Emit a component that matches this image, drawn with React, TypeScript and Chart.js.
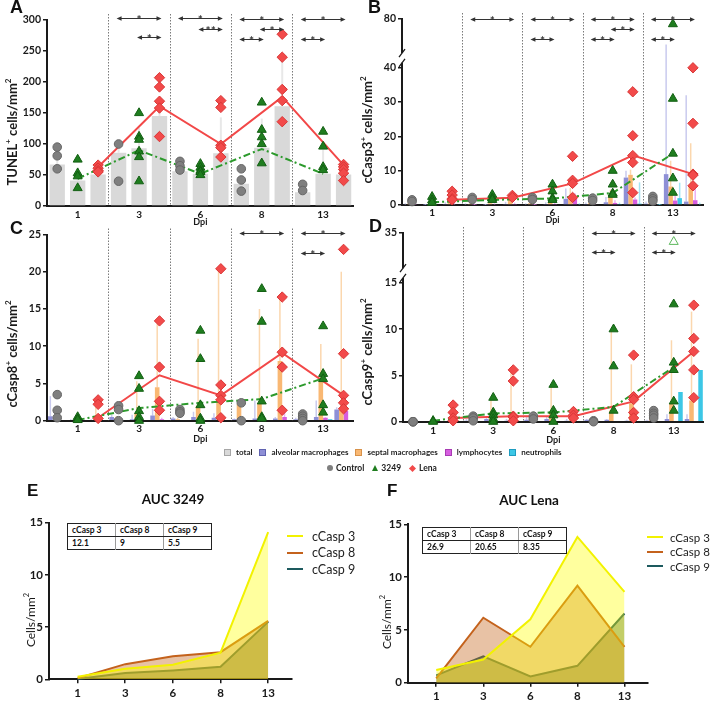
import React, { useEffect, useRef } from 'react';
import { Chart, registerables } from 'chart.js';

Chart.register(...registerables);

const FONT = 'Lato, "Open Sans", "DejaVu Sans", sans-serif';
const INK = '#1a1a1a';

// ---------- shared categories ----------
const days = ['1', '3', '6', '8', '13'];
const groups = ['Control', '3249', 'Lena'];
const categories = days.flatMap((d) => groups.map((g) => `${d}|${g}`));

const legendBarNames = ['total', 'alveolar macrophages', 'septal macrophages', 'lymphocytes', 'neutrophils'];
const legendBarColors = ['#d9d9d9', '#8e8fd6', '#f9b873', '#d65de0', '#3cc7e6'];
const legendBarBorders = ['#a6a6a6', '#6063b0', '#d8924a', '#a83bb3', '#1e9cc0'];
const cellTypes = ['alveolar macrophages', 'septal macrophages', 'lymphocytes', 'neutrophils'];
const cellColors = ['#8e8fd6', '#f9b873', '#d65de0', '#3cc7e6'];
const cellErrColors = ['#c9caee', '#fbd7ae', '#ecb0f2', '#a3e4f3'];

const groupColors = ['#7f7f7f', '#1f7d1f', '#f24a4a'];
const groupBorders = ['#666666', '#125f12', '#d93636'];
const groupStyles = ['circle', 'triangle', 'rectRot'];

// ---------- Panel A : TUNEL ----------
const aTotal = [67, 41, 51, 86, 93, 145, 56, 52, 85, 36, 94, 161, 22, 52, 51];
const aTotalSd = [11, 21, 4, 14, 34, 31, 9, 6, 58, 14, 47, 80, 8, 39, 9];
const aControl = [[95, 81, 60], [100, 40], [72, 65, 58], [60, 42, 24], [35, 25]];
const a3249 = [[75, 53, 48, 29], [150, 112, 107, 88, 79, 40], [68, 62, 57, 55, 50], [167, 123, 111, 100, 69], [120, 96, 63, 58]];
const aLena = [[66, 61, 57, 55], [207, 192, 169, 158, 112], [170, 159, 98, 94, 79], [277, 240, 188, 170, 136], [67, 63, 59, 53, 41]];
const a3249Line = [44, 90, 52, 92, 52];
const aLenaLine = [63, 161, 100, 176, 66];
const aSig = [
  [1, 0, 2, 303, '*'], [1, 1, 2, 272, '*'],
  [2, 0, 2, 304, '*'], [2, 1, 2, 286, '**'],
  [3, 0, 2, 301, '*'], [3, 1, 2, 285, '*'], [3, 0, 1, 269, '*'],
  [4, 0, 2, 301, '*'], [4, 0, 1, 269, '*'],
];

// ---------- Panel B : cCasp3 ----------
const bAlveolar = [0.2, 0.1, 0.3, 0.2, 0.1, 0.3, 0.2, 0.3, 1.8, 0.3, 0.8, 8.0, 0.4, 9.0, 1.0];
const bAlveolarSd = [0.3, 0.2, 0.5, 0.3, 0.2, 0.6, 0.3, 0.5, 3.0, 0.4, 1.5, 2.0, 0.6, 41, 31];
const bSeptal = [0.5, 0.3, 0.8, 0.3, 0.5, 1.5, 0.5, 1.0, 2.4, 0.6, 2.5, 8.8, 0.8, 5.4, 5.3];
const bSeptalSd = [0.5, 0.5, 1.0, 0.5, 0.8, 1.5, 0.5, 1.2, 2.6, 0.6, 2.0, 1.5, 0.8, 7.5, 12.7];
const bLympho = [0.1, 0.1, 0.2, 0.1, 0.2, 0.3, 0.1, 0.3, 2.2, 0.2, 0.6, 1.6, 0.2, 1.3, 1.4];
const bLymphoSd = [0.1, 0.1, 0.3, 0.2, 0.3, 0.4, 0.2, 0.5, 1.2, 0.3, 0.8, 0.6, 0.3, 1.3, 3.3];
const bNeutro = [0, 0, 0, 0, 0, 0, 0, 0, 0.2, 0, 0.3, 0.4, 0.1, 2.0, 0.2];
const bNeutroSd = [0, 0, 0, 0, 0, 0, 0, 0, 0.3, 0, 0.4, 6.2, 0.2, 4.5, 0.5];
const bControl = [[1.5, 1.0], [2.2, 1.6], [2.2, 1.6], [2.0, 1.3], [2.5, 1.8, 1.2]];
const b3249 = [[2.4, 1.4, 0.7], [3.0, 2.0, 1.5], [6.0, 4.0, 2.0, 1.5], [10, 6, 3.4, 3.0], [74, 31, 15, 7.8, 3.6]];
const bLena = [[4.0, 2.9, 1.8, 1.5], [2.8, 2.2], [14.2, 7.2, 6.3, 2.2], [33, 20.2, 14.4, 12.4, 3.6], [40, 23.8, 9, 8.7, 5.6]];
const b3249Line = [0.8, 1.5, 1.9, 3.5, 15];
const bLenaLine = [1.5, 2.1, 6.3, 14.5, 9.0];
const bTicks = [0, 10, 20, 30, 40, 80];
const bSig = [
  [1, 0, 2, 80, '*'],
  [2, 0, 2, 80, '*'], [2, 0, 1, 57, '*'],
  [3, 0, 2, 80, '*'], [3, 1, 2, 68, '*'], [3, 0, 1, 57, '*'],
  [4, 0, 2, 80, '*'], [4, 0, 1, 57, '*'],
];

// ---------- Panel C : cCasp8 ----------
const cAlveolar = [0.6, 0.1, 0.1, 0.5, 0.2, 0.7, 0.3, 0.5, 0.4, 0.2, 0.3, 0.3, 0.2, 0.5, 1.5];
const cAlveolarSd = [2.7, 0.1, 0.1, 0.3, 0.6, 0.9, 0.2, 0.7, 0.6, 0.1, 2.4, 0.2, 0.2, 2.2, 0.3];
const cSeptal = [0.1, 0.1, 0.5, 0.3, 1.0, 4.5, 0.2, 2.0, 2.7, 2.2, 2.3, 8.0, 0.8, 5.3, 1.5];
const cSeptalSd = [0.1, 0.1, 1.8, 0.3, 4.3, 8.5, 0.2, 9.0, 17.5, 0.3, 12.7, 8.5, 0.2, 5.0, 18.5];
const cLympho = [0, 0, 0.1, 0, 0.1, 0.2, 0, 0.1, 0.1, 0, 0.1, 0.5, 0, 0.4, 1.3];
const cLymphoSd = [0, 0, 0.1, 0, 0.1, 0.2, 0, 0.1, 0.1, 0, 0.1, 0.7, 0, 0.1, 0.5];
const cNeutro = [0, 0, 0, 0, 0, 0, 0, 0, 0, 0, 0, 0, 0, 0.2, 0];
const cNeutroSd = [0, 0, 0, 0, 0, 0, 0, 0, 0, 0, 0, 0, 0, 0, 0];
const cControl = [[3.5, 1.4, 0.4], [2.0, 1.5, 0], [1.5, 1.2, 1.0], [2.4, 0], [0.9, 0.6, 0.3, 0]];
const c3249 = [[0.5, 0.2, 0.1], [6.0, 4.3, 1.3, 0.5, 0], [12.1, 8.3, 2.1, 0.3, 0], [17.7, 13.3, 2.6, 0.5, 0.3], [12.7, 6.3, 5.6, 2.1, 1.1]];
const cLena = [[2.8, 2.2, 0.3], [13.4, 7.2, 2.6, 1.4], [20.4, 4.8, 3.4, 2.8, 0.4], [16.6, 9.2, 7.2, 1.4], [23, 9, 3.4, 2.4, 1.6]];
const c3249Line = [0.1, 1.7, 2.4, 2.9, 5.7];
const cLenaLine = [0.4, 6.1, 3.4, 9.1, 3.4];
const cSig = [[3, 0, 2, 25.2, '*'], [4, 0, 2, 25.2, '*'], [4, 0, 1, 22.5, '*']];

// ---------- Panel D : cCasp9 ----------
const dAlveolar = [0, 0, 0, 0.1, 0.3, 0.1, 0.2, 0.3, 0.1, 0.2, 0.2, 0.1, 0.1, 0.3, 0.3];
const dAlveolarSd = [0, 0, 0, 0.2, 0.2, 0.2, 0.3, 0.3, 0.2, 0.1, 0.1, 0.1, 0.1, 0.5, 0.5];
const dSeptal = [0, 0, 0.5, 0.2, 0.4, 0.5, 0.3, 1.0, 0.3, 0.1, 1.2, 2.0, 0.9, 2.0, 2.3];
const dSeptalSd = [0, 0, 1.3, 0.3, 2.1, 4.8, 0.3, 3.0, 0.4, 0.1, 8.8, 4.2, 0.3, 6.8, 9.6];
const dLympho = [0, 0, 0, 0, 0, 0, 0, 0, 0, 0, 0, 0, 0, 0, 0];
const dLymphoSd = [0, 0, 0, 0, 0, 0, 0, 0, 0, 0, 0, 0, 0, 0, 0];
const dNeutro = [0, 0, 0, 0, 0, 0, 0, 0, 0, 0, 0, 0, 0, 3.2, 5.6];
const dNeutroSd = [0, 0, 0, 0, 0, 0, 0, 0, 0, 0, 0, 0, 0, 0, 0];
const dControl = [[0, 0, 0], [0.6, 0.4, 0.1], [0.6, 0.3], [0.1, 0], [1.2, 0.9, 0.7, 0.4]];
const d3249 = [[0.1, 0], [2.6, 1.0, 0.7, 0.3, 0], [4.0, 1.2, 0.7, 0], [10, 6, 1.2], [12.7, 6.4, 5.6, 2.2, 1.2]];
const dLena = [[1.8, 1.0, 0.4, 0.1], [5.6, 4.4, 0.6, 0.5, 0.1], [1.1, 0.7, 0.4], [7.2, 2.7, 2.4, 1.0, 0.4], [12.6, 9.0, 7.6, 5.6, 2.6]];
const d3249Line = [0.1, 0.9, 1.0, 1.6, 5.9];
const dLenaLine = [0.4, 0.6, 0.6, 2.2, 7.6];
const dOutlierDays = ['13'];
const dOutlierValues = [30];
const dTicks = [0, 5, 10, 15, 35];
const dSig = [[3, 0, 2, 35, '*'], [3, 0, 1, 24, '*'], [4, 0, 2, 35, '*'], [4, 0, 1, 24, '*']];

// ---------- Panels E / F : AUC ----------
const aucSeries = ['cCasp 3', 'cCasp 8', 'cCasp 9'];
const aucLineColors = ['#f2f200', '#c4621c', '#1d5a5e'];
const aucFillColors = ['rgba(255,255,0,0.38)', 'rgba(200,110,40,0.42)', 'rgba(40,80,60,0.45)'];
const e3 = [0.25, 1.0, 1.4, 2.55, 14.1];
const e8 = [0.1, 1.45, 2.2, 2.6, 5.6];
const e9 = [0.03, 0.6, 0.85, 1.2, 5.5];
const f3 = [1.2, 2.2, 6.0, 13.8, 8.6];
const f8 = [0.4, 6.15, 3.4, 9.2, 3.4];
const f9 = [0.7, 2.5, 0.6, 1.6, 6.55];
const eAuc = ['12.1', '9', '5.5'];
const fAuc = ['26.9', '20.65', '8.35'];

// ---------- helpers ----------
function makeTf(brk: any) {
  return brk ? (v: number) => (v <= brk.lo ? v : brk.hi0 + (v - brk.lo) * brk.k) : (v: number) => v;
}

function parseRich(text: string) {
  const parts: { t: string; sup: boolean }[] = [];
  for (let i = 0; i < text.length; i++) {
    if (text[i] === '^') {
      parts.push({ t: text[i + 1], sup: true });
      i++;
    } else if (parts.length && !parts[parts.length - 1].sup) {
      parts[parts.length - 1].t += text[i];
    } else {
      parts.push({ t: text[i], sup: false });
    }
  }
  return parts;
}

function drawRich(ctx: CanvasRenderingContext2D, text: string, x: number, y: number, size: number, weight: string) {
  const parts = parseRich(text);
  const main = `${weight} ${size}px ${FONT}`;
  const sup = `${weight} ${size * 0.62}px ${FONT}`;
  ctx.save();
  ctx.translate(x, y);
  ctx.rotate(-Math.PI / 2);
  ctx.fillStyle = INK;
  ctx.textBaseline = 'middle';
  ctx.textAlign = 'left';
  let total = 0;
  parts.forEach((p) => {
    ctx.font = p.sup ? sup : main;
    total += ctx.measureText(p.t).width;
  });
  let cx = -total / 2;
  parts.forEach((p) => {
    ctx.font = p.sup ? sup : main;
    ctx.fillText(p.t, cx, p.sup ? -size * 0.38 : 0);
    cx += ctx.measureText(p.t).width;
  });
  ctx.restore();
}

function groupedConfig(p: any) {
  const tf = makeTf(p.brk);
  const datasets: any[] = [];
  p.bars.forEach((b: any) =>
    datasets.push({
      type: 'bar', label: b.label, data: b.values.map(tf), rawValues: b.values, sd: b.sd,
      backgroundColor: b.color, errColor: b.errColor, errWidth: b.errWidth,
      categoryPercentage: p.catPct, barPercentage: 1, order: 10,
    })
  );
  const lineDefs = [
    { g: '3249', vals: p.line3249, color: '#2c9a2c', dash: [7, 3, 2, 3] },
    { g: 'Lena', vals: p.lineLena, color: '#f24848', dash: [] },
  ];
  lineDefs.forEach((l) =>
    datasets.push({
      type: 'line', label: `${l.g} trend`,
      data: days.map((d, i) => ({ x: `${d}|${l.g}`, y: tf(l.vals[i]) })),
      borderColor: l.color, borderWidth: 2, borderDash: l.dash, pointRadius: 0, fill: false, tension: 0, order: 5, clip: false,
    })
  );
  [p.ctrl, p.t3249, p.lena].forEach((pts: number[][], gi: number) =>
    datasets.push({
      type: 'line', label: groups[gi], showLine: false,
      data: days.flatMap((d, i) => pts[i].map((v) => ({ x: `${d}|${groups[gi]}`, y: tf(v) }))),
      pointStyle: groupStyles[gi], pointRadius: gi === 0 ? 4.3 : 5.2,
      pointBackgroundColor: groupColors[gi], pointBorderColor: groupBorders[gi], pointBorderWidth: 1,
      order: 1, clip: false,
    })
  );
  if (p.hollowDays) {
    datasets.push({
      type: 'line', label: 'outlier', showLine: false,
      data: p.hollowDays.map((d: string, i: number) => ({ x: `${d}|3249`, y: tf(p.hollowValues[i]) })),
      pointStyle: 'triangle', pointRadius: 5.2, pointBackgroundColor: 'rgba(0,0,0,0)',
      pointBorderColor: '#5cb85c', pointBorderWidth: 1, order: 1, clip: false,
    });
  }

  const decor = {
    id: 'decor',
    beforeDatasetsDraw(chart: any) {
      const { ctx, chartArea: a, scales } = chart;
      const x = scales.x, y = scales.y;
      ctx.save();
      ctx.strokeStyle = '#7a7a7a';
      ctx.lineWidth = 1;
      ctx.setLineDash([1.5, 1.5]);
      for (let g = 1; g < days.length; g++) {
        const px = Math.round((x.getPixelForValue(g * 3 - 1) + x.getPixelForValue(g * 3)) / 2) + 0.5;
        ctx.beginPath();
        ctx.moveTo(px, a.top - 6);
        ctx.lineTo(px, a.bottom);
        ctx.stroke();
      }
      ctx.setLineDash([]);
      chart.data.datasets.forEach((ds: any, di: number) => {
        if (!ds.sd) return;
        const meta = chart.getDatasetMeta(di);
        ctx.strokeStyle = ds.errColor;
        ctx.lineWidth = ds.errWidth;
        meta.data.forEach((el: any, i: number) => {
          const s = ds.sd[i];
          if (!s) return;
          ctx.beginPath();
          ctx.moveTo(el.x, y.getPixelForValue(tf(ds.rawValues[i])));
          ctx.lineTo(el.x, y.getPixelForValue(tf(ds.rawValues[i] + s)));
          ctx.stroke();
        });
      });
      ctx.restore();
    },
    afterDatasetsDraw(chart: any) {
      const { ctx, chartArea: a, scales } = chart;
      const x = scales.x, y = scales.y;
      ctx.save();
      ctx.strokeStyle = '#333';
      ctx.fillStyle = '#333';
      ctx.lineWidth = 1;
      p.sig.forEach(([d, g1, g2, v, lab]: any) => {
        const x1 = x.getPixelForValue(d * 3 + g1) - 2;
        const x2 = x.getPixelForValue(d * 3 + g2) + 2;
        const py = Math.round(y.getPixelForValue(tf(v))) + 0.5;
        ctx.beginPath();
        ctx.moveTo(x1 + 4, py);
        ctx.lineTo(x2 - 4, py);
        ctx.stroke();
        ctx.beginPath();
        ctx.moveTo(x1, py); ctx.lineTo(x1 + 5, py - 2.3); ctx.lineTo(x1 + 5, py + 2.3); ctx.closePath();
        ctx.moveTo(x2, py); ctx.lineTo(x2 - 5, py - 2.3); ctx.lineTo(x2 - 5, py + 2.3); ctx.closePath();
        ctx.fill();
        ctx.font = `bold 12px ${FONT}`;
        ctx.textAlign = 'center';
        ctx.textBaseline = 'alphabetic';
        ctx.fillText(lab, (x1 + x2) / 2, py + 5.5);
      });
      if (p.brk) {
        const xl = a.left;
        const yLo = y.getPixelForValue(p.brk.lo) - 5;
        const yHi = y.getPixelForValue(p.brk.hi0);
        ctx.strokeStyle = INK;
        ctx.lineWidth = 2;
        ctx.beginPath();
        ctx.moveTo(xl, a.bottom + 1); ctx.lineTo(xl, yLo);
        ctx.moveTo(xl, yHi); ctx.lineTo(xl, a.top - 1);
        ctx.stroke();
        ctx.lineWidth = 1.3;
        ctx.beginPath();
        ctx.moveTo(xl - 3, yLo + 4); ctx.lineTo(xl + 3, yLo - 4);
        ctx.moveTo(xl - 3, yHi + 4); ctx.lineTo(xl + 3, yHi - 4);
        ctx.stroke();
      }
      ctx.restore();
      drawRich(ctx, p.yTitle, p.yTitleX, p.yTitleY, 13, 'bold');
    },
  };

  const yScale: any = {
    type: 'linear', min: 0, max: p.brk ? tf(p.yTicks[p.yTicks.length - 1]) : p.yMax,
    grid: { display: true, drawOnChartArea: false, drawTicks: true, tickLength: 4, color: INK, lineWidth: 1.5 },
    border: { display: !p.brk, color: INK, width: 2 },
    ticks: { stepSize: p.yStep, padding: 2, color: INK, font: { family: FONT, size: 10.5, weight: 'bold' } },
    afterFit: (s: any) => { s.width = p.area.left; },
  };
  if (p.brk) {
    yScale.afterBuildTicks = (s: any) => { s.ticks = p.yTicks.map((v: number) => ({ value: tf(v) })); };
    yScale.ticks.callback = (_v: any, i: number) => String(p.yTicks[i]);
  }

  return {
    type: 'bar',
    data: { labels: categories, datasets },
    options: {
      responsive: false, animation: false, events: [],
      layout: { padding: { left: 0, top: p.area.top, right: p.w - p.area.right, bottom: 0 } },
      plugins: { legend: { display: false }, tooltip: { enabled: false } },
      scales: {
        x: {
          type: 'category', offset: true,
          grid: { display: false, drawTicks: false, tickLength: 0 },
          border: { display: true, color: INK, width: 2 },
          ticks: {
            autoSkip: false, maxRotation: 0, padding: p.xPad, color: INK,
            font: { family: FONT, size: 10, weight: 'bold' },
            callback: (_v: any, i: number) => (i % 3 === 1 ? days[(i - 1) / 3] : ''),
          },
          title: { display: true, text: 'Dpi', color: INK, font: { family: FONT, size: 9, weight: 'bold' }, padding: { top: 0, bottom: p.dpiPad } },
          afterFit: (s: any) => { s.height = p.h - p.area.bottom; },
        },
        y: yScale,
      },
    },
    plugins: [decor],
  };
}

function aucConfig(p: any) {
  return {
    type: 'line',
    data: {
      datasets: aucSeries.map((name, j) => ({
        label: name,
        data: p.series[j].map((v: number, i: number) => ({ x: i, y: v })),
        borderColor: aucLineColors[j], backgroundColor: aucFillColors[j], fill: 'origin',
        borderWidth: 2, pointRadius: 0, tension: 0, clip: false,
      })),
    },
    options: {
      responsive: false, animation: false, events: [],
      layout: { padding: { left: 0, top: p.area.top, right: p.w - p.area.right, bottom: 0 } },
      plugins: { legend: { display: false }, tooltip: { enabled: false } },
      scales: {
        x: {
          type: 'linear', min: -0.6, max: 4.5,
          grid: { display: true, drawOnChartArea: false, drawTicks: true, tickLength: 4, color: INK, lineWidth: 1.5 },
          border: { display: true, color: INK, width: 2 },
          ticks: {
            stepSize: 1, includeBounds: false, autoSkip: false, maxRotation: 0, padding: 3, color: INK,
            font: { family: FONT, size: 11.5, weight: 'bold' },
            callback: (v: any) => (days[v] !== undefined ? days[v] : ''),
          },
          afterFit: (s: any) => { s.height = p.h - p.area.bottom; },
        },
        y: {
          min: 0, max: 15,
          grid: { display: true, drawOnChartArea: false, drawTicks: true, tickLength: 4, color: INK, lineWidth: 1.5 },
          border: { display: true, color: INK, width: 2 },
          ticks: { stepSize: 5, padding: 2, color: INK, font: { family: FONT, size: 11.5, weight: 'bold' } },
          afterFit: (s: any) => { s.width = p.area.left; },
        },
      },
    },
    plugins: [{
      id: 'ytitle',
      afterDraw(chart: any) { drawRich(chart.ctx, 'Cells/mm^2', p.yTitleX, p.yTitleY, 12, 'normal'); },
    }],
  };
}

function cellBars(values: number[][], sds: number[][]) {
  return cellTypes.map((name, j) => ({
    label: name, values: values[j], sd: sds[j], color: cellColors[j], errColor: cellErrColors[j], errWidth: 1.5,
  }));
}

const panelA = {
  left: 0, top: 0, w: 360, h: 232, area: { left: 47, top: 20, right: 355, bottom: 206 },
  xPad: 2.5, dpiPad: 5, yMax: 300, yStep: 50, catPct: 0.75,
  yTitle: 'TUNEL^+ cells/mm^2', yTitleX: 13, yTitleY: 132,
  bars: [{ label: 'total', values: aTotal, sd: aTotalSd, color: legendBarColors[0], errColor: '#e8e8e8', errWidth: 2 }],
  ctrl: aControl, t3249: a3249, lena: aLena, line3249: a3249Line, lineLena: aLenaLine, sig: aSig,
};
const panelB = {
  left: 355, top: 0, w: 355, h: 232, area: { left: 47, top: 19, right: 348, bottom: 205 },
  xPad: 2, dpiPad: 7, yTicks: bTicks, brk: { lo: 40, hi0: 44.3, k: 0.248 }, catPct: 0.9,
  yTitle: 'cCasp3^+ cells/mm^2', yTitleX: 13, yTitleY: 130,
  bars: cellBars([bAlveolar, bSeptal, bLympho, bNeutro], [bAlveolarSd, bSeptalSd, bLymphoSd, bNeutroSd]),
  ctrl: bControl, t3249: b3249, lena: bLena, line3249: b3249Line, lineLena: bLenaLine, sig: bSig,
};
const panelC = {
  left: 0, top: 222, w: 360, h: 226, area: { left: 47, top: 12.5, right: 355, bottom: 198.7 },
  xPad: 2.5, dpiPad: 4, yMax: 25, yStep: 5, catPct: 0.9,
  yTitle: 'cCasp8^+ cells/mm^2', yTitleX: 13, yTitleY: 132,
  bars: cellBars([cAlveolar, cSeptal, cLympho, cNeutro], [cAlveolarSd, cSeptalSd, cLymphoSd, cNeutroSd]),
  ctrl: cControl, t3249: c3249, lena: cLena, line3249: c3249Line, lineLena: cLenaLine, sig: cSig,
};
const panelD = {
  left: 355, top: 222, w: 355, h: 226, area: { left: 48, top: 11, right: 350, bottom: 199.7 },
  xPad: 3.5, dpiPad: 3, yTicks: dTicks, brk: { lo: 15, hi0: 16.6, k: 0.19 }, catPct: 0.9,
  yTitle: 'cCasp9^+ cells/mm^2', yTitleX: 13, yTitleY: 130,
  bars: cellBars([dAlveolar, dSeptal, dLympho, dNeutro], [dAlveolarSd, dSeptalSd, dLymphoSd, dNeutroSd]),
  ctrl: dControl, t3249: d3249, lena: dLena, line3249: d3249Line, lineLena: dLenaLine, sig: dSig,
  hollowDays: dOutlierDays, hollowValues: dOutlierValues,
};
const panelE = {
  left: 0, top: 475, w: 360, h: 228, area: { left: 49, top: 47.7, right: 292, bottom: 204.3 },
  series: [e3, e8, e9], yTitleX: 31, yTitleY: 145,
};
const panelF = {
  left: 355, top: 475, w: 355, h: 228, area: { left: 53, top: 49.3, right: 293, bottom: 207.7 },
  series: [f3, f8, f9], yTitleX: 32, yTitleY: 147,
};

function ChartCanvas({ p, build }: { p: any; build: (p: any) => any }) {
  const ref = useRef<HTMLCanvasElement>(null);
  useEffect(() => {
    const chart = new Chart(ref.current as HTMLCanvasElement, build(p) as any);
    return () => chart.destroy();
  }, []);
  return (
    <canvas ref={ref} width={p.w} height={p.h}
      style={{ position: 'absolute', left: p.left, top: p.top, width: p.w, height: p.h }} />
  );
}

function Letter({ ch, left, top, size = 18 }: { ch: string; left: number; top: number; size?: number }) {
  return (
    <div style={{ position: 'absolute', left, top, fontFamily: '"Liberation Sans", Arial, sans-serif', fontWeight: 700, fontSize: size, lineHeight: 1, color: '#111' }}>{ch}</div>
  );
}

function AucTable({ left, top, values }: { left: number; top: number; values: string[] }) {
  const cell = (i: number, header: boolean): React.CSSProperties => ({
    borderLeft: i === 0 ? 'none' : '1px solid #9a9a9a',
    borderBottom: header ? '1.5px solid #222' : 'none',
    padding: '0 4px', height: 12, lineHeight: '12px', width: 39, textAlign: 'left',
  });
  return (
    <table style={{ position: 'absolute', left, top, borderCollapse: 'collapse', border: '1.5px solid #222', background: '#fff', fontFamily: FONT, fontSize: 8.5, fontWeight: 700, color: '#111' }}>
      <tbody>
        <tr>{aucSeries.map((s, i) => <td key={s} style={cell(i, true)}>{s}</td>)}</tr>
        <tr>{values.map((v, i) => <td key={i} style={cell(i, false)}>{v}</td>)}</tr>
      </tbody>
    </table>
  );
}

function AucLegend({ left, top, gap, size, lineGap }: { left: number; top: number; gap: number; size: number; lineGap: number }) {
  return (
    <div style={{ position: 'absolute', left, top, fontFamily: FONT, fontSize: size, color: '#222', whiteSpace: 'nowrap' }}>
      {aucSeries.map((s, i) => (
        <div key={s} style={{ display: 'flex', alignItems: 'center', height: gap }}>
          <span style={{ display: 'inline-block', width: 16, height: 2, background: aucLineColors[i], marginRight: lineGap }} />
          <span>{s}</span>
        </div>
      ))}
    </div>
  );
}

function Marker({ i }: { i: number }) {
  if (i === 0) return <span style={{ display: 'inline-block', width: 6, height: 6, borderRadius: '50%', background: groupColors[0], marginRight: 3 }} />;
  if (i === 1) return <span style={{ display: 'inline-block', width: 0, height: 0, borderLeft: '3.5px solid transparent', borderRight: '3.5px solid transparent', borderBottom: `6px solid ${groupColors[1]}`, marginRight: 3 }} />;
  return <span style={{ display: 'inline-block', width: 5, height: 5, background: groupColors[2], transform: 'rotate(45deg)', marginRight: 4, marginLeft: 1 }} />;
}

export default function App() {
  const txt: React.CSSProperties = { fontFamily: FONT, fontWeight: 700, color: '#222' };
  return (
    <div style={{ position: 'fixed', left: 0, top: 0, width: 710, height: 703, background: '#fff', overflow: 'hidden' }}>
      <ChartCanvas p={panelA} build={groupedConfig} />
      <ChartCanvas p={panelB} build={groupedConfig} />
      <ChartCanvas p={panelC} build={groupedConfig} />
      <ChartCanvas p={panelD} build={groupedConfig} />
      <ChartCanvas p={panelE} build={aucConfig} />
      <ChartCanvas p={panelF} build={aucConfig} />

      <Letter ch="A" left={10} top={-2} />
      <Letter ch="B" left={368} top={-2} />
      <Letter ch="C" left={10} top={219} />
      <Letter ch="D" left={369} top={217} />
      <Letter ch="E" left={27} top={482} size={17} />
      <Letter ch="F" left={387} top={482} size={17} />

      <div style={{ ...txt, position: 'absolute', left: 224, top: 447, fontSize: 8, lineHeight: '10px', display: 'flex', alignItems: 'center', whiteSpace: 'nowrap' }}>
        {legendBarNames.map((n, i) => (
          <span key={n} style={{ display: 'inline-flex', alignItems: 'center', marginRight: 7 }}>
            <span style={{ display: 'inline-block', width: 5, height: 5, background: legendBarColors[i], border: `1px solid ${legendBarBorders[i]}`, marginRight: 5 }} />
            {n}
          </span>
        ))}
      </div>
      <div style={{ ...txt, position: 'absolute', left: 327, top: 463, fontSize: 8.5, lineHeight: '10px', display: 'flex', alignItems: 'center', whiteSpace: 'nowrap' }}>
        {groups.map((g, i) => (
          <span key={g} style={{ display: 'inline-flex', alignItems: 'center', marginRight: 8 }}>
            <Marker i={i} />
            {g}
          </span>
        ))}
      </div>

      <div style={{ ...txt, position: 'absolute', left: 173, top: 499, transform: 'translate(-50%,-50%)', fontSize: 13.5, color: '#111', whiteSpace: 'nowrap' }}>AUC 3249</div>
      <div style={{ ...txt, position: 'absolute', left: 529, top: 500, transform: 'translate(-50%,-50%)', fontSize: 13.5, color: '#111', whiteSpace: 'nowrap' }}>AUC Lena</div>

      <AucTable left={67} top={523} values={eAuc} />
      <AucTable left={422} top={527} values={fAuc} />
      <AucLegend left={287} top={528} gap={16.5} size={12.5} lineGap={9} />
      <AucLegend left={647} top={530} gap={14.5} size={11.5} lineGap={7} />
    </div>
  );
}
